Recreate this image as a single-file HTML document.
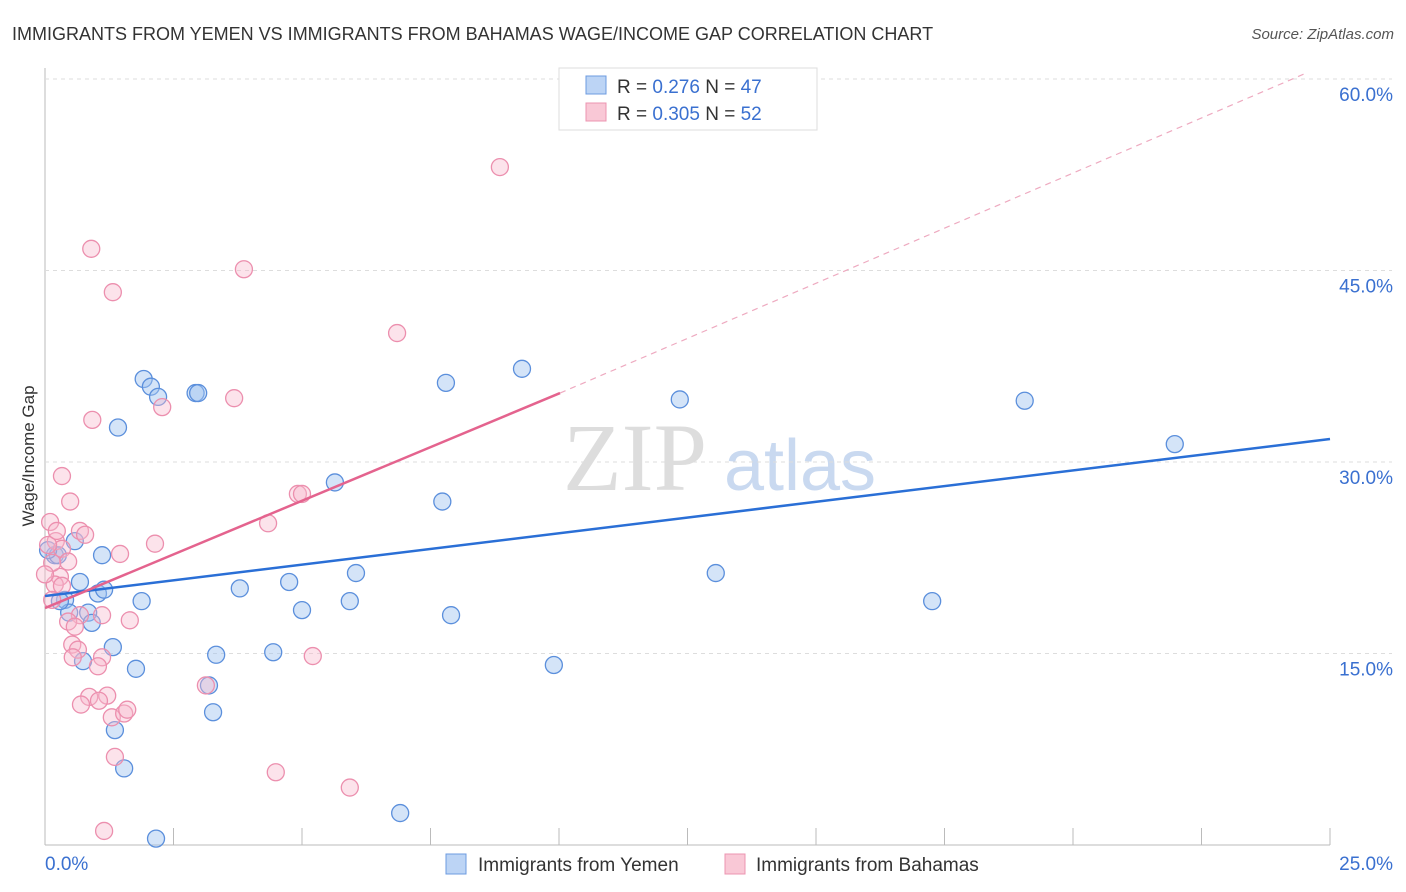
<!DOCTYPE html>
<html><head><meta charset="utf-8"><style>
body{margin:0;background:#fff;font-family:"Liberation Sans",sans-serif}
svg{display:block}
</style></head><body>
<svg id="c" width="1406" height="892">
<text x="12" y="40" font-size="18" fill="#333">IMMIGRANTS FROM YEMEN VS IMMIGRANTS FROM BAHAMAS WAGE/INCOME GAP CORRELATION CHART</text>
<text x="1394" y="39" font-size="15" fill="#555" text-anchor="end" font-style="italic">Source: ZipAtlas.com</text>
<text x="34" y="456" font-size="17" fill="#333" text-anchor="middle" transform="rotate(-90 34 456)">Wage/Income Gap</text>
<text x="635" y="490" font-size="96" fill="#ddd" font-family="Liberation Serif" text-anchor="middle">ZIP</text>
<text x="800" y="490" font-size="72" fill="#c9d9f0" text-anchor="middle">atlas</text>
<g id="grid"></g><g id="pts"></g><g id="lines"></g>
<g>
<rect x="559" y="68" width="258" height="62" fill="#fff" stroke="#ddd"/>
<rect x="586" y="76" width="20" height="18" fill="#bcd4f5" stroke="#6c9be0"/>
<rect x="586" y="103" width="20" height="18" fill="#f9c8d6" stroke="#ec94b0"/>
<text x="617" y="93" font-size="19" fill="#333">R = <tspan fill="#3a70d0">0.276</tspan>   N = <tspan fill="#3a70d0">47</tspan></text>
<text x="617" y="120" font-size="19" fill="#333">R = <tspan fill="#3a70d0">0.305</tspan>   N = <tspan fill="#3a70d0">52</tspan></text>
</g>
<g>
<rect x="446" y="854" width="20" height="20" fill="#bcd4f5" stroke="#6c9be0"/>
<text x="478" y="871" font-size="19" fill="#333">Immigrants from Yemen</text>
<rect x="725" y="854" width="20" height="20" fill="#f9c8d6" stroke="#ec94b0"/>
<text x="756" y="871" font-size="19" fill="#333">Immigrants from Bahamas</text>
</g>
</svg>
<script>
const yTicks=[15,30,45,60];
const xTickLabels=["0.0%","25.0%"];
const blueX=[7.7,8.4,7.6,7.8,6.9,6.1,7.0,3.3,3.9,2.2,3.2,1.9,0.4,2.0,3.2,4.4,5.2,6.0,5.6,5.0,2.3,8.1,0.8,1.0,1.2,1.4,2.1,2.0,1.0,1.1,1.3,0.6,0.3,0.25,0.05,0.5,1.3,1.5,0.6,0.9,1.8,3.4,3.5,9.9,10.7,11.9,13.1];
const blueY=[14.0,18.0,18.2,19.1,19.2,20.0,20.6,21.0,14.5,10.4,15.0,15.1,17.3,12.9,13.8,14.9,15.2,19.3,3.3,0.6,8.6,28.4,28.9,29.1,29.4,28.3,29.5,19.9,25.6,24.7,24.6,22.3,21.8,22.7,21.8,20.5,20.4,20.9,19.4,19.3,18.6,17.4,10.3,21.3,19.8,17.6,17.4];
const blueYfix=[36.5,35.4,35.9,35.4,35.1,32.7,28.4,36.2,37.3,34.9,34.8,31.4,26.9,22.7,22.7,20.6,19.7,20.0,19.2,19.1,20.1,20.6,21.3,19.1,18.4,18.0,21.3,19.1,18.2,18.2,17.4,15.5,14.4,13.8,14.9,15.1,14.1,12.5,10.4,9.0,6.0,2.5,0.5,22.7,23.1,19.1,23.8];
const blueXfix=[1.92,2.93,2.06,2.98,2.2,1.42,5.64,7.8,9.28,12.35,19.06,21.98,7.73,1.11,0.19,0.68,1.03,1.15,0.39,1.88,3.79,4.75,6.05,5.93,5.0,7.9,13.05,17.26,0.47,0.84,0.91,1.32,0.74,1.77,3.33,4.44,9.9,3.19,3.27,1.36,1.54,6.91,2.16,0.25,0.06,0.29,0.58];
const pinkX=[8.85,0.9,3.87,1.32,6.85,3.68,2.28,0.92,0.33,0.49,0.1,0.68,0.78,0.21,0.33,1.46,2.14,0.45,0.29,0.19,4.92,5.0,4.34,0.68,0.45,1.65,1.11,0.58,0.53,0.64,0.54,1.11,1.03,5.21,3.13,0.86,1.21,0.7,1.05,1.3,1.54,1.6,1.36,4.49,5.93,1.15,0.14,0.33,0.06,0.14,0.23,0.0];
const pinkY=[53.1,46.7,45.1,43.3,40.1,35.0,34.3,33.3,28.9,26.9,25.3,24.6,24.3,23.8,23.2,22.8,23.6,22.2,21.0,20.4,27.5,27.5,25.2,18.0,17.5,17.6,18.0,17.1,15.7,15.3,14.7,14.7,14.0,14.8,12.5,11.6,11.7,11.0,11.3,10.0,10.3,10.6,6.9,5.7,4.5,1.1,19.2,20.3,23.5,22.1,24.6,21.2];
const blueLine=[19.5,31.8];   // y at x=0 and x=25
const pinkLine=[18.56,35.4,60.4]; // y at x=0, x=10.02 (solid end), x=24.5 (dashed end)
const pinkLineX=[0,10.02,24.5];
const NS="http://www.w3.org/2000/svg";
const X=v=>45+v/25*1285, Y=v=>845-v/15*191.5;
function el(t,a,p){const e=document.createElementNS(NS,t);for(const k in a)e.setAttribute(k,a[k]);p.appendChild(e);return e;}
const grid=document.getElementById('grid');
el('line',{x1:45,y1:68,x2:45,y2:845,stroke:'#bbb'},grid);
el('line',{x1:45,y1:845,x2:1330,y2:845,stroke:'#bbb'},grid);
for(let i=1;i<=10;i++){const l=el('line',{x1:45+i*128.5,y1:828,x2:45+i*128.5,y2:845,stroke:'#bbb'},grid);}
yTicks.forEach(t=>{
 const g=el('line',{x1:45,y1:Y(t),x2:1392,y2:Y(t),stroke:'#ddd','stroke-dasharray':'4,4'},grid);
 
 const tx=el('text',{x:1393,y:Y(t)+22,'font-size':19,fill:'#3a70d0','text-anchor':'end'},grid);tx.textContent=t.toFixed(1)+'%';
 
});
const xl0=el('text',{x:45,y:870,'font-size':19,fill:'#3a70d0'},grid);xl0.textContent=xTickLabels[0];

const xl1=el('text',{x:1393,y:870,'font-size':19,fill:'#3a70d0','text-anchor':'end'},grid);xl1.textContent=xTickLabels[1];

const pts=document.getElementById('pts');
blueXfix.forEach((x,i)=>{const c=el('circle',{cx:X(x),cy:Y(blueYfix[i]),r:8.5,fill:'rgba(160,195,240,0.45)',stroke:'#5b8fdc','stroke-width':1.3},pts);
 });
pinkX.forEach((x,i)=>{const c=el('circle',{cx:X(x),cy:Y(pinkY[i]),r:8.5,fill:'rgba(248,185,205,0.4)',stroke:'#ec8fae','stroke-width':1.3},pts);
 });
const ln=document.getElementById('lines');
const b=el('line',{x1:X(0),y1:Y(blueLine[0]),x2:X(25),y2:Y(blueLine[1]),stroke:'#2a6fd6','stroke-width':2.5},ln);

const p=el('line',{x1:X(pinkLineX[0]),y1:Y(pinkLine[0]),x2:X(pinkLineX[1]),y2:Y(pinkLine[1]),stroke:'#e4638e','stroke-width':2.5},ln);

const pd=el('line',{x1:X(pinkLineX[1]),y1:Y(pinkLine[1]),x2:X(pinkLineX[2]),y2:Y(pinkLine[2]),stroke:'#eeaac0','stroke-width':1.2,'stroke-dasharray':'6,5'},ln);

</script>
</body></html>
